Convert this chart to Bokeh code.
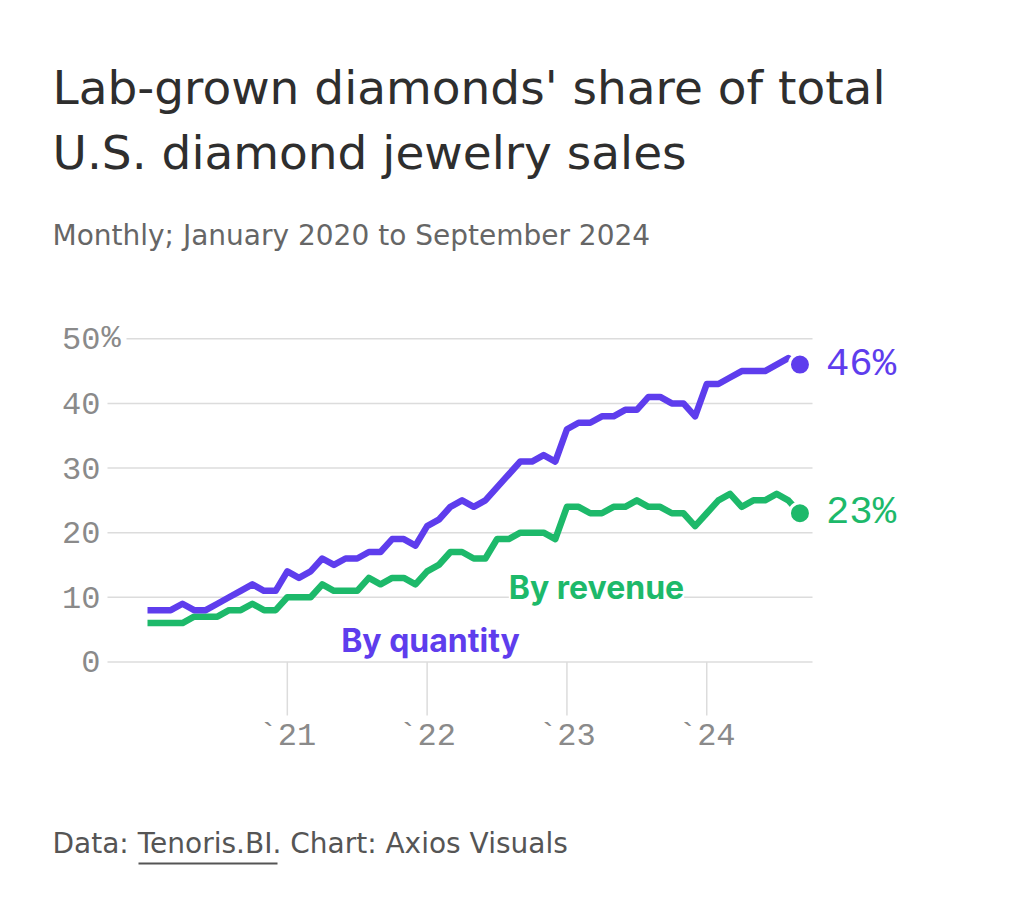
from bokeh.plotting import figure
from bokeh.models import ColumnDataSource, Range1d, Label
from bokeh.core.properties import value
from bokeh.embed import file_html
from bokeh.resources import INLINE

# ---------------- data ----------------
months = [f"{y}-{m:02d}" for y in range(2020, 2025) for m in range(1, 13)][:57]  # Jan 2020 .. Sep 2024
by_quantity = [8, 8, 8, 9, 8, 8, 9, 10, 11, 12, 11, 11,
               14, 13, 14, 16, 15, 16, 16, 17, 17, 19, 19, 18,
               21, 22, 24, 25, 24, 25, 27, 29, 31, 31, 32, 31,
               36, 37, 37, 38, 38, 39, 39, 41, 41, 40, 40, 38,
               43, 43, 44, 45, 45, 45, 46, 47, 46]
by_revenue = [6, 6, 6, 6, 7, 7, 7, 8, 8, 9, 8, 8,
              10, 10, 10, 12, 11, 11, 11, 13, 12, 13, 13, 12,
              14, 15, 17, 17, 16, 16, 19, 19, 20, 20, 20, 19,
              24, 24, 23, 23, 24, 24, 25, 24, 24, 23, 23, 21,
              23, 25, 26, 24, 25, 25, 26, 25, 23]
tick_months = ["2021-01", "2022-01", "2023-01", "2024-01"]
tick_labels = ["`21", "`22", "`23", "`24"]
y_ticks = [0, 10, 20, 30, 40, 50]
y_tick_labels = ["0", "10", "20", "30", "40", "50"]

title_lines = ["Lab-grown diamonds' share of total", "U.S. diamond jewelry sales"]
subtitle = "Monthly; January 2020 to September 2024"
footer = "Data: Tenoris.BI. Chart: Axios Visuals"
series_names = ["By quantity", "By revenue"]

PURPLE = "#5E3DED"
GREEN = "#1DB96A"
GRID = "#dcdcdc"
TICKTXT = "#8a8a8a"
SANS = "Inter"
TITLE_FONT = "DejaVu Sans"
MONO = "Liberation Mono"

x_idx = list(range(len(months)))
src = ColumnDataSource(dict(x=x_idx, month=months, q=by_quantity, r=by_revenue))

# ---------------- layout (scales span the whole canvas) ----------------
W, H = 1024, 908
PX_PER_MONTH, X_ORIGIN_PX = 11.651, 147.0
PX_PER_UNIT, Y_ORIGIN_PX = 6.463, 661.4
X0, X1 = -X_ORIGIN_PX / PX_PER_MONTH, (W - X_ORIGIN_PX) / PX_PER_MONTH
Y0, Y1 = -(H - Y_ORIGIN_PX) / PX_PER_UNIT, Y_ORIGIN_PX / PX_PER_UNIT


def px_x(px):
    return X0 + px / W * (X1 - X0)


def px_y(py):
    return Y1 - py / H * (Y1 - Y0)


p = figure(width=W, height=H, output_backend="svg", toolbar_location=None,
           x_range=Range1d(X0, X1), y_range=Range1d(Y0, Y1),
           x_axis_type=None, y_axis_type=None, min_border=0)
p.outline_line_color = None
p.background_fill_color = "white"
p.border_fill_color = "white"
p.grid.visible = False

GRID_LEFT, GRID_RIGHT, GRID_LEFT_TOP = 107, 812, 126
LABEL_RIGHT = 100

# horizontal grid lines
gx0 = [px_x(GRID_LEFT_TOP if t == y_ticks[-1] else GRID_LEFT) for t in y_ticks]
p.segment(x0=gx0, x1=[px_x(GRID_RIGHT)] * len(y_ticks), y0=y_ticks, y1=y_ticks,
          line_color=GRID, line_width=1.5)

# y tick labels
p.text(x=[px_x(LABEL_RIGHT)] * len(y_ticks), y=y_ticks, text=y_tick_labels,
       text_align="right", text_baseline="middle", text_font=value(MONO),
       text_font_size="32px", text_color=TICKTXT)
p.text(x=[px_x(LABEL_RIGHT + 1)], y=[y_ticks[-1]], text=["%"], text_align="left",
       text_baseline="middle", text_font=value(MONO), text_font_size="32px", text_color=TICKTXT)

# x ticks and labels
tick_pos = [months.index(m) for m in tick_months]
p.segment(x0=tick_pos, x1=tick_pos, y0=[0] * len(tick_pos), y1=[px_y(715)] * len(tick_pos),
          line_color=GRID, line_width=1.5)
p.text(x=tick_pos, y=[px_y(736)] * len(tick_pos), text=tick_labels, text_align="center",
       text_baseline="middle", text_font=value(MONO), text_font_size="32px",
       text_color=TICKTXT)

# lines
p.line("x", "r", source=src, line_width=6.5, line_color=GREEN, line_join="round")
p.line("x", "q", source=src, line_width=6.5, line_color=PURPLE, line_join="round")

# end dots and labels
for vals, col in ((by_quantity, PURPLE), (by_revenue, GREEN)):
    p.scatter([x_idx[-1]], [vals[-1]], size=21, fill_color=col, line_color="white", line_width=3)
    p.text([x_idx[-1]], [vals[-1]], text=[f"{vals[-1]}%"], x_offset=26,
           text_align="left", text_baseline="middle", text_font=value(MONO),
           text_font_size="39px", text_color=col)

# series labels (white box breaks the grid lines)
p.add_layout(Label(x=px_x(596), y=px_y(587), text=series_names[1], text_align="center",
                   text_baseline="middle", text_font=SANS, text_font_size="32px",
                   text_font_style="bold", text_color=GREEN, background_fill_color="white"))
p.add_layout(Label(x=px_x(430), y=px_y(640), text=series_names[0], text_align="center",
                   text_baseline="middle", text_font=SANS, text_font_size="32px",
                   text_font_style="bold", text_color=PURPLE, background_fill_color="white"))

# titles
for i, t in enumerate(title_lines):
    p.add_layout(Label(x=px_x(52), y=px_y(87 + 65 * i), text=t, text_align="left",
                       text_baseline="middle", text_font=TITLE_FONT, text_font_size="47px",
                       text_color="#2e2e2e"))
p.add_layout(Label(x=px_x(52), y=px_y(235), text=subtitle, text_align="left",
                   text_baseline="middle", text_font=TITLE_FONT, text_font_size="28px",
                   text_color="#666666"))
p.add_layout(Label(x=px_x(52), y=px_y(843), text=footer, text_align="left",
                   text_baseline="middle", text_font=TITLE_FONT, text_font_size="28px",
                   text_color="#555555"))
p.segment(x0=[px_x(138)], x1=[px_x(277)], y0=[px_y(863)], y1=[px_y(863)],
          line_color="#555555", line_width=2)

open("out.html", "w").write(file_html(p, INLINE))
